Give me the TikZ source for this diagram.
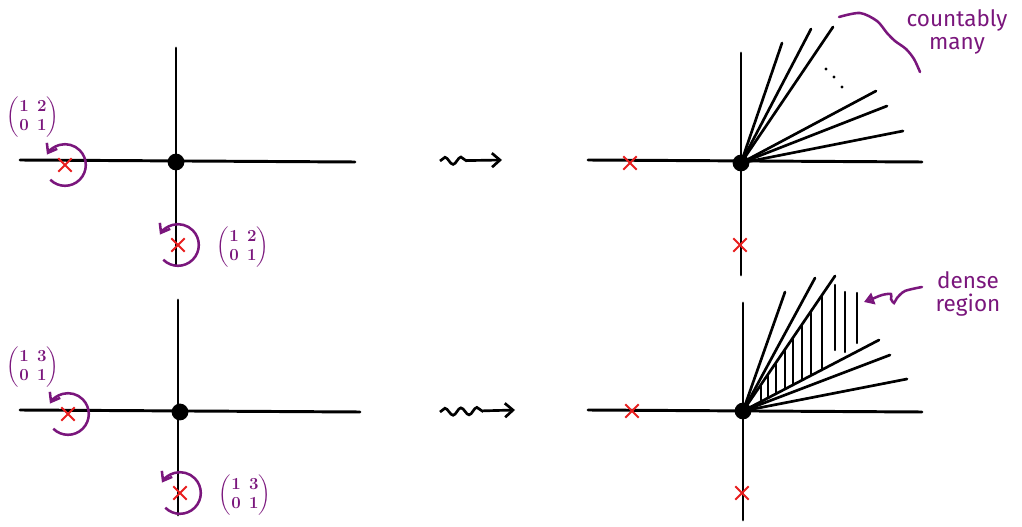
\documentclass[tikz,border=0pt]{standalone}
\usepackage{amsmath}
\usepackage{fontspec}
\newfontfamily\manus{Fira Sans}
\usepackage{tikz}
\usetikzlibrary{shapes.misc,arrows.meta,decorations.pathmorphing}
\definecolor{mauve}{RGB}{122,22,124}
\definecolor{rouge}{RGB}{232,30,30}
\setlength{\arraycolsep}{3pt}

\begin{document}
\begin{tikzpicture}[x=0.025cm,y=0.025cm,
  axe/.style={line width=2.1pt,line cap=round},
  rayon/.style={line width=1.9pt,line cap=round},
  hachure/.style={line width=1.5pt,line cap=round},
  point/.style={circle,fill=black,inner sep=0pt,minimum size=0.42cm},
  croix/.style={cross out,draw=rouge,line width=1.5pt,inner sep=0pt,minimum size=0.28cm},
  boucle/.style={draw=mauve,line width=1.8pt,-{Straight Barb[length=2mm,width=3mm]}},
  trait/.style={draw=mauve,line width=1.8pt,line cap=round},
  onde/.style={line width=1.9pt,decorate,decoration={snake,amplitude=0.09cm,segment length=0.4cm,post length=0.7cm},-{Straight Barb[length=2mm,width=3.5mm]}},
  etiq/.style={text=mauve,inner sep=0pt,font=\large\boldmath},
  texte/.style={text=mauve,font=\manus\fontsize{16}{17}\selectfont,align=center,inner sep=0pt}]
\useasboundingbox (0,0) rectangle (1022,527);

  % repère haut gauche
\draw[axe] (20,367) -- (355,365);
\draw[axe] (176,479) -- (176,262);
  \node[point] (O1) at (176,365) {};
  \node[croix] (a1) at (65,362) {};
  \node[croix] (b1) at (178,282) {};
  \node[etiq] (m1) at (33,410) {$\begin{pmatrix}1&2\\0&1\end{pmatrix}$};
  \node[etiq] (n1) at (243,280) {$\begin{pmatrix}1&2\\0&1\end{pmatrix}$};

  % repère haut droite
\draw[axe] (588,367) -- (922,365);
\draw[axe] (741,474) -- (741,252);
  \node[point] (O2) at (741,364) {};
  \node[croix] (a2) at (630,364) {};
  \node[croix] (b2) at (740,282) {};
\foreach \p in {(782,484),(811,498),(833,500),(876,436),(887,421),(903,396)}
  \draw[rayon] (O2.center) -- \p;
\foreach \p in {(826,458),(834,450),(842,440)}
  \fill \p circle[radius=1.7];
  \draw[trait] plot[smooth] coordinates {(839,510) (860,514) (877,506) (887,494) (895,486) (906,478) (914,468) (920,455)};
  \node[texte] (c1) at (957,495) {countably\\many};

  % repère bas gauche
\draw[axe] (20,117) -- (360,115);
\draw[axe] (178,227) -- (178,12);
  \node[point] (O3) at (180,115) {};
  \node[croix] (a3) at (68,113) {};
  \node[croix] (b3) at (180,34) {};
  \node[etiq] (m3) at (33,160) {$\begin{pmatrix}1&3\\0&1\end{pmatrix}$};
  \node[etiq] (n3) at (245,32) {$\begin{pmatrix}1&3\\0&1\end{pmatrix}$};

  % repère bas droite
\draw[axe] (588,117) -- (922,115);
\draw[axe] (743,224) -- (743,7);
  \node[point] (O4) at (743,116) {};
  \node[croix] (a4) at (632,116) {};
  \node[croix] (b4) at (742,34) {};
\foreach \p in {(785,235),(815,249),(835,251),(879,187),(890,172),(907,148)}
  \draw[rayon] (O4.center) -- \p;
\foreach \x/\b/\h in {761/125/142,768/129/153,776/133/164,785/138/178,793/142/189,802/147/203,811/152/216,822/157/232,835/177/242,845/175/235,857/184/234}
  \draw[hachure] (\x,\b) -- (\x,\h);
  \coordinate (q4) at (922,240);
  \coordinate (p4) at (864,225);
  \draw[trait,-{Triangle[open,length=2.5mm,width=3mm]}] plot[smooth] coordinates {(q4) (905,236) (897,229) (894,224) (891,228) (891,233) (882,232) (872,228) (p4)};
  \node[texte] (d4) at (968,233) {dense\\region};

  % boucles
\foreach \n in {a1,b1,a3,b3}
  \draw[boucle] ([shift={(-135:0.52cm)}]\n.center) arc[start angle=-135,end angle=150,radius=0.52cm];

  % flèches
  \coordinate (s1) at (440,366);
  \coordinate (t1) at (502,367);
  \draw[onde] (s1) -- (t1);
  \coordinate (s3) at (440,115);
  \coordinate (t3) at (515,117);
  \draw[onde] (s3) -- (t3);

\end{tikzpicture}
\end{document}
